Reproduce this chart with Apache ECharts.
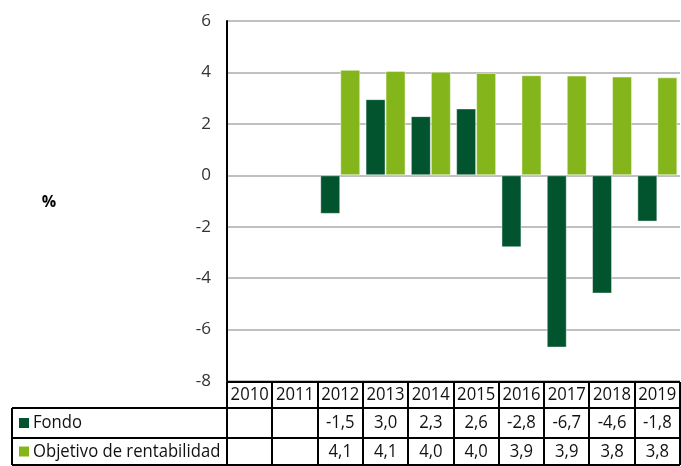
<!DOCTYPE html>
<html>
<head>
<meta charset="utf-8">
<script src="https://cdn.jsdelivr.net/npm/echarts@6/dist/echarts.min.js"></script>
<style>
  html, body { margin: 0; padding: 0; background: #fff; }
  #chart { width: 681px; height: 466px; }
</style>
</head>
<body>
<div id="chart"></div>
<script>
const years = ['2010', '2011', '2012', '2013', '2014', '2015', '2016', '2017', '2018', '2019'];
const fondo = [null, null, -1.5, 2.96, 2.3, 2.6, -2.8, -6.7, -4.6, -1.8];
const objetivo = [null, null, 4.1, 4.06, 4.03, 3.98, 3.89, 3.88, 3.84, 3.81];
const seriesNames = ['Fondo', 'Objetivo de rentabilidad'];
const colors = ['#02542f', '#84b61c'];

const FONT = '"Open Sans", "Noto Sans", sans-serif';
const chart = echarts.init(document.getElementById('chart'));

const gridLeft = 227, gridRight = 1, gridTop = 21, gridBottom = 85;

chart.setOption({
    animation: false,
    grid: { left: gridLeft, right: gridRight, top: gridTop, bottom: gridBottom },
    xAxis: {
        type: 'category',
        data: years,
        axisLine: { show: false },
        axisTick: { show: false },
        axisLabel: { show: false }
    },
    yAxis: {
        type: 'value',
        min: -8, max: 6, interval: 2,
        axisLine: { show: true, lineStyle: { color: '#000', width: 2 } },
        axisTick: { show: false },
        axisLabel: { color: '#333', fontSize: 17, fontFamily: FONT, margin: 16 },
        splitLine: { lineStyle: { color: '#c0c0c0', width: 2 } }
    },
    series: [
        {
            name: seriesNames[0], type: 'bar', data: fondo,
            barGap: 0, barCategoryGap: '11.7%',
            itemStyle: { color: colors[0], borderColor: 'rgba(255,255,255,0.45)', borderWidth: 1 }
        },
        {
            name: seriesNames[1], type: 'bar', data: objetivo,
            barGap: 0, barCategoryGap: '11.7%',
            itemStyle: { color: colors[1], borderColor: 'rgba(255,255,255,0.45)', borderWidth: 1 }
        }
    ]
});

// data table under the plot
function buildTable() {
    const fmt = v => (v == null ? '' : v.toFixed(1).replace('.', ','));
    const centers = years.map((y, i) => chart.convertToPixel({ xAxisIndex: 0 }, i));
    const catW = centers[1] - centers[0];
    const right = 680, left = 12;
    const rowY = [382, 408, 438, 465];
    const lineStyle = { stroke: '#000', lineWidth: 2 };
    const els = [];
    const line = (x1, y1, x2, y2) => els.push({ type: 'line', shape: { x1, y1, x2, y2 }, style: lineStyle, z: 10 });
    // slightly narrowed text to mimic the condensed face of the original
    const text = (x, y, s, align) => els.push({
        type: 'text', x, y, z: 11, scaleX: 0.9,
        style: { text: s, fill: '#111', font: '18.5px ' + FONT, align: align || 'center', verticalAlign: 'middle' }
    });

    // horizontal rules
    line(gridLeft, rowY[0], right, rowY[0]);
    line(left, rowY[1], right, rowY[1]);
    line(left, rowY[2], right, rowY[2]);
    line(left, rowY[3], right, rowY[3]);
    // vertical rules
    line(left, rowY[1], left, rowY[3]);
    line(gridLeft, rowY[0], gridLeft, rowY[3]);
    centers.forEach(c => line(Math.round(c + catW / 2), rowY[0], Math.round(c + catW / 2), rowY[3]));

    const mid = k => (rowY[k] + rowY[k + 1]) / 2;
    years.forEach((y, i) => {
        text(centers[i], mid(0), y);
        text(centers[i], mid(1), fmt(fondo[i]));
        text(centers[i], mid(2), fmt(objetivo[i]));
    });
    [fondo, objetivo].forEach((s, k) => {
        els.push({ type: 'rect', shape: { x: 19, y: mid(k + 1) - 5, width: 10, height: 10 }, style: { fill: colors[k] }, z: 11 });
        text(33, mid(k + 1), seriesNames[k], 'left');
    });

    els.push({
        type: 'text', x: 49, y: 202, z: 11,
        style: { text: '%', fill: '#000', font: 'bold 16px ' + FONT, align: 'center', verticalAlign: 'middle' }
    });
    chart.setOption({ graphic: els });
}
buildTable();
</script>
</body>
</html>
